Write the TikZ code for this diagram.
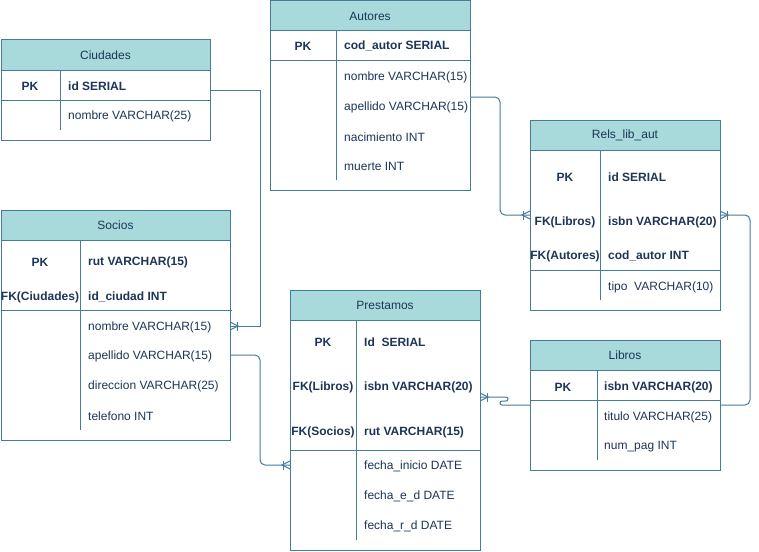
\documentclass[tikz,border=0pt]{standalone}
\usepackage{fontspec}
\setmainfont{Liberation Sans}
\usepackage{tikz}
\definecolor{hdrfill}{HTML}{A8DADC}
\definecolor{edge}{HTML}{457B9D}
\definecolor{ink}{HTML}{1D3557}
\tikzset{
    tbl/.style={draw=edge, line width=1pt, anchor=north west, inner sep=0pt, outer sep=0pt}, % 表格外框
    hdr/.style={tbl, fill=hdrfill, minimum height=30pt, text=ink, font=\fontsize{12}{14}\selectfont}, % 表头
    key/.style={text=ink, inner sep=0pt, yshift=-1pt, font=\fontsize{12}{14}\selectfont\bfseries}, % 键列
    fld/.style={text=ink, inner sep=0pt, yshift=-1pt, anchor=west, font=\fontsize{12}{14}\selectfont}, % 字段
    fldb/.style={fld, font=\fontsize{12}{14}\selectfont\bfseries}, % 键字段
    rule/.style={draw=edge, line width=1pt}, % 分隔线与连线
    crow/.pic={\draw[rule] (0,-4) -- (8,0) -- (0,4); \draw[rule] (7,-4.5) -- (7,4.5);} % 一对多端点
}

\begin{document}
\begin{tikzpicture}[x=1pt, y=-1pt]
    \fill[white] (0,0) rectangle (759,551);
    \useasboundingbox (0,0) rectangle (759,551);

    % Ciudades
    \node[tbl, minimum width=209pt, minimum height=100pt] (ciu) at (1,40) {};
    \node[hdr, minimum width=209pt] (ciu-h) at (1,40) {Ciudades};
    \draw[rule] (1,100) -- (210,100);
    \draw[rule] (60,70) -- (60,130);
    \node[key] (ciu-pk) at (30,85) {PK};
    \node[fldb] (ciu-id) at (68,85) {id SERIAL};
    \node[fld] (ciu-nom) at (68,115) {nombre VARCHAR(25)};

    % Autores
    \node[tbl, minimum width=200pt, minimum height=189pt] (aut) at (270,1) {};
    \node[hdr, minimum width=200pt] (aut-h) at (270,1) {Autores};
    \draw[rule] (270,60) -- (470,60);
    \draw[rule] (336,30) -- (336,180);
    \node[key] (aut-pk) at (303,45) {PK};
    \node[fldb] (aut-cod) at (344,45) {cod\_autor SERIAL};
    \foreach \y/\t/\n in {76/nombre VARCHAR(15)/nom, 106/apellido VARCHAR(15)/ape, 136/nacimiento INT/nac, 165/muerte INT/mue}
        \node[fld] (aut-\n) at (344,\y) {\t};

    % Rels_lib_aut
    \node[tbl, minimum width=190pt, minimum height=190pt] (rel) at (530,120) {};
    \node[hdr, minimum width=190pt] (rel-h) at (530,120) {Rels\_lib\_aut};
    \draw[rule] (530,270) -- (720,270);
    \draw[rule] (600,150) -- (600,300);
    \node[key] (rel-pk) at (565,176) {PK};
    \node[fldb] (rel-id) at (608,176) {id SERIAL};
    \node[key] (rel-fk1) at (565,221) {FK(Libros)};
    \node[fldb] (rel-isbn) at (608,221) {isbn VARCHAR(20)};
    \node[key] (rel-fk2) at (565,255) {FK(Autores)};
    \node[fldb] (rel-cod) at (608,255) {cod\_autor INT};
    \node[fld] (rel-tipo) at (608,286) {tipo\ \ VARCHAR(10)};

    % Socios
    \node[tbl, minimum width=229pt, minimum height=230pt] (soc) at (1,210) {};
    \node[hdr, minimum width=229pt] (soc-h) at (1,210) {Socios};
    \draw[rule] (1,310) -- (232,310);
    \draw[rule] (80,240) -- (80,430);
    \node[key] (soc-pk) at (40,261) {PK};
    \node[fldb] (soc-rut) at (88,261) {rut VARCHAR(15)};
    \node[key] (soc-fk) at (40,296) {FK(Ciudades)};
    \node[fldb] (soc-ciu) at (88,296) {id\_ciudad INT};
    \foreach \y/\t/\n in {326/nombre VARCHAR(15)/nom, 355/apellido VARCHAR(15)/ape, 385/direccion VARCHAR(25)/dir, 415/telefono INT/tel}
        \node[fld] (soc-\n) at (88,\y) {\t};

    % Prestamos
    \node[tbl, minimum width=190pt, minimum height=260pt] (pre) at (290,290) {};
    \node[hdr, minimum width=190pt] (pre-h) at (290,290) {Prestamos};
    \draw[rule] (290,450) -- (480,450);
    \draw[rule] (356,320) -- (356,540);
    \node[key] (pre-pk) at (323,341) {PK};
    \node[fldb] (pre-id) at (364,341) {Id\ \ SERIAL};
    \node[key] (pre-fk1) at (323,386) {FK(Libros)};
    \node[fldb] (pre-isbn) at (364,386) {isbn VARCHAR(20)};
    \node[key] (pre-fk2) at (323,431) {FK(Socios)};
    \node[fldb] (pre-rut) at (364,431) {rut VARCHAR(15)};
    \foreach \y/\t/\n in {465/fecha\_inicio DATE/ini, 495/fecha\_e\_d DATE/ent, 525/fecha\_r\_d DATE/ret}
        \node[fld] (pre-\n) at (364,\y) {\t};

    % Libros
    \node[tbl, minimum width=190pt, minimum height=130pt] (lib) at (530,340) {};
    \node[hdr, minimum width=190pt] (lib-h) at (530,340) {Libros};
    \draw[rule] (530,400) -- (720,400);
    \draw[rule] (597,370) -- (597,460);
    \node[key] (lib-pk) at (563,386) {PK};
    \node[fldb] (lib-isbn) at (604,386) {isbn VARCHAR(20)};
    \node[fld] (lib-tit) at (604,416) {titulo VARCHAR(25)};
    \node[fld] (lib-num) at (604,446) {num\_pag INT};

    % 连线
    \draw[rule] ([yshift=-4pt]ciu.east |- ciu-id) -- ++(50,0) |- ([yshift=1pt]soc.east |- soc-nom);
    \pic at ([yshift=1pt]soc.east |- soc-nom) {crow};
    \draw[rule, rounded corners=5pt] ([yshift=10pt]aut.east |- aut-ape) -- ++(30,0) |- ([yshift=7pt]rel.west |- rel-isbn);
    \pic[rotate=180] at ([yshift=7pt]rel.west |- rel-isbn) {crow};
    \draw[rule, rounded corners=5pt] ([yshift=12pt]lib.east |- lib-tit) -- ++(30,0) |- ([yshift=7pt]rel.east |- rel-isbn);
    \pic at ([yshift=7pt]rel.east |- rel-isbn) {crow};
    \draw[rule, rounded corners=2pt] ([yshift=12pt]lib.west |- lib-tit) -- ++(-30,0) -- ++(0,-4) -- ++(8,0) -- ++(0,-4) -- ([yshift=-10pt]pre.east |- pre-isbn);
    \pic at ([yshift=-10pt]pre.east |- pre-isbn) {crow};
    \draw[rule, rounded corners=5pt] ([yshift=1pt]soc.east |- soc-ape) -- ++(30,0) |- ([yshift=1pt]pre.west |- pre-ini);
    \pic[rotate=180] at ([yshift=1pt]pre.west |- pre-ini) {crow};
\end{tikzpicture}
\end{document}
